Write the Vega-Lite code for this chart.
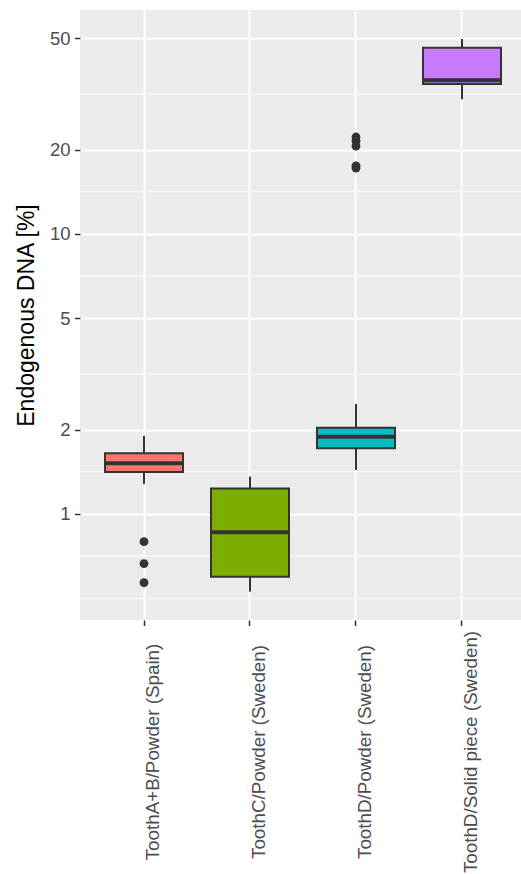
{
  "$schema": "https://vega.github.io/schema/vega-lite/v6.json",
  "width": 441,
  "height": 610,
  "autosize": {"type": "none"},
  "padding": {"left": 80, "top": 10, "right": 0, "bottom": 254},
  "background": "white",
  "config": {
    "font": "Liberation Sans",
    "view": {"fill": "#EBEBEB", "stroke": null},
    "axisX": {
      "domain": false, "grid": true, "gridColor": "white", "gridWidth": 2,
      "tickColor": "#333333", "tickSize": 5.5, "tickWidth": 1.5,
      "labelColor": "#4D4D4D", "labelFontSize": 18.8, "labelAngle": -90,
      "labelAlign": "center", "labelBaseline": "top", "labelPadding": 126, "labelLimit": 400
    },
    "axisY": {
      "domain": false, "grid": true, "gridColor": "white", "gridWidth": 2,
      "tickColor": "#333333", "tickSize": 5.5, "tickWidth": 1.5,
      "labelColor": "#4D4D4D", "labelFontSize": 18.5, "labelPadding": 4.5,
      "titleFontSize": 23, "titleColor": "black", "titleFontWeight": "normal", "titlePadding": 11
    }
  },
  "datasets": {
    "boxes": [
      {"group": "ToothA+B/Powder (Spain)", "lo": 1.28, "q1": 1.413, "med": 1.517, "q3": 1.647, "hi": 1.9},
      {"group": "ToothC/Powder (Sweden)", "lo": 0.528, "q1": 0.597, "med": 0.86, "q3": 1.232, "hi": 1.359},
      {"group": "ToothD/Powder (Sweden)", "lo": 1.436, "q1": 1.716, "med": 1.888, "q3": 2.03, "hi": 2.47},
      {"group": "ToothD/Solid piece (Sweden)", "lo": 30.3, "q1": 34.3, "med": 35.4, "q3": 46.3, "hi": 49.7}
    ],
    "outliers": [
      {"group": "ToothA+B/Powder (Spain)", "value": 0.796},
      {"group": "ToothA+B/Powder (Spain)", "value": 0.665},
      {"group": "ToothA+B/Powder (Spain)", "value": 0.568},
      {"group": "ToothD/Powder (Sweden)", "value": 22.2},
      {"group": "ToothD/Powder (Sweden)", "value": 21.5},
      {"group": "ToothD/Powder (Sweden)", "value": 20.6},
      {"group": "ToothD/Powder (Sweden)", "value": 17.5},
      {"group": "ToothD/Powder (Sweden)", "value": 17.2}
    ],
    "minor": [
      {"v": 0.5}, {"v": 0.7071}, {"v": 1.4142}, {"v": 3.1623}, {"v": 7.0711}, {"v": 14.142}, {"v": 31.623}
    ]
  },
  "layer": [
    {
      "data": {"name": "minor"},
      "mark": {"type": "rule", "color": "white", "strokeWidth": 1},
      "encoding": {
        "y": {
          "field": "v", "type": "quantitative", "title": "Endogenous DNA [%]",
          "scale": {"type": "log", "domain": [0.418, 63.1], "nice": false, "zero": false},
          "axis": {"values": [1, 2, 5, 10, 20, 50], "format": "~g"}
        }
      }
    },
    {
      "data": {"name": "boxes"},
      "mark": {"type": "rule", "color": "#333333", "strokeWidth": 2},
      "encoding": {
        "x": {
          "field": "group", "type": "nominal", "title": null,
          "sort": ["ToothA+B/Powder (Spain)", "ToothC/Powder (Sweden)", "ToothD/Powder (Sweden)", "ToothD/Solid piece (Sweden)"],
          "scale": {"paddingInner": 0, "paddingOuter": 0.0802, "align": 0.647}
        },
        "y": {"field": "lo", "type": "quantitative", "title": "Endogenous DNA [%]"},
        "y2": {"field": "hi"}
      }
    },
    {
      "data": {"name": "boxes"},
      "mark": {"type": "bar", "size": 78, "stroke": "#333333", "strokeWidth": 2},
      "encoding": {
        "x": {"field": "group", "type": "nominal", "title": null,
          "sort": ["ToothA+B/Powder (Spain)", "ToothC/Powder (Sweden)", "ToothD/Powder (Sweden)", "ToothD/Solid piece (Sweden)"]},
        "y": {"field": "q1", "type": "quantitative", "title": "Endogenous DNA [%]"},
        "y2": {"field": "q3"},
        "fill": {
          "field": "group", "type": "nominal", "legend": null,
          "scale": {
            "domain": ["ToothA+B/Powder (Spain)", "ToothC/Powder (Sweden)", "ToothD/Powder (Sweden)", "ToothD/Solid piece (Sweden)"],
            "range": ["#F8766D", "#7CAE00", "#00BFC4", "#C77CFF"]
          }
        }
      }
    },
    {
      "data": {"name": "boxes"},
      "mark": {"type": "tick", "size": 80, "thickness": 4, "color": "#333333", "opacity": 1},
      "encoding": {
        "x": {"field": "group", "type": "nominal", "title": null,
          "sort": ["ToothA+B/Powder (Spain)", "ToothC/Powder (Sweden)", "ToothD/Powder (Sweden)", "ToothD/Solid piece (Sweden)"]},
        "y": {"field": "med", "type": "quantitative", "title": "Endogenous DNA [%]"}
      }
    },
    {
      "data": {"name": "outliers"},
      "mark": {"type": "point", "filled": true, "size": 78, "color": "#333333", "opacity": 1},
      "encoding": {
        "x": {"field": "group", "type": "nominal", "title": null,
          "sort": ["ToothA+B/Powder (Spain)", "ToothC/Powder (Sweden)", "ToothD/Powder (Sweden)", "ToothD/Solid piece (Sweden)"]},
        "y": {"field": "value", "type": "quantitative", "title": "Endogenous DNA [%]"}
      }
    }
  ]
}
